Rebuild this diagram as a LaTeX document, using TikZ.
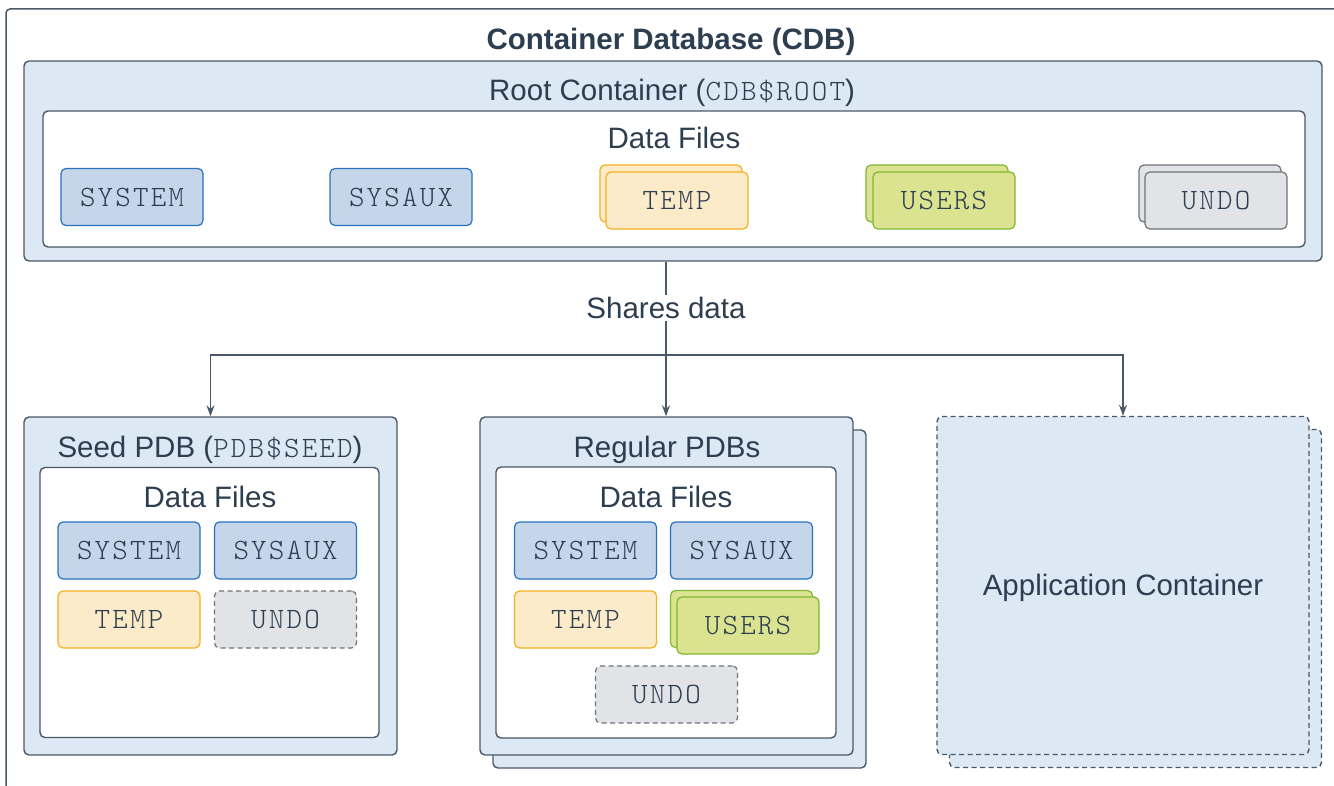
\documentclass[tikz,border=0pt]{standalone}
\usepackage{fontspec}
\setmainfont{Liberation Sans}
\newfontfamily\filefont{lmmonolt10-regular}[Extension=.otf,LetterSpace=7.5]
\usetikzlibrary{arrows.meta}

\definecolor{ink}{HTML}{2C3E50}
\definecolor{rim}{HTML}{4A5968}
\definecolor{pdbfill}{HTML}{DCE8F4}
\definecolor{sysfill}{HTML}{C5D5EA}
\definecolor{sysrim}{HTML}{2A72BE}
\definecolor{tempfill}{HTML}{FCEBC8}
\definecolor{temprim}{HTML}{F4B01E}
\definecolor{userfill}{HTML}{DBE391}
\definecolor{userrim}{HTML}{80B730}
\definecolor{undofill}{HTML}{E1E3E6}
\definecolor{undorim}{HTML}{6E7378}

\begin{document}
\begin{tikzpicture}[x=1pt,y=-1pt,
    font=\fontsize{29.5}{35}\selectfont, text=ink,
    box/.style={rectangle,draw=rim,line width=1.4pt,rounded corners=5pt},
    pdb/.style={box,fill=pdbfill,minimum width=373pt,minimum height=338pt},
    files/.style={box,fill=white},
    file/.style={rectangle,rounded corners=5pt,line width=1.2pt,
                 minimum width=142pt,minimum height=57pt,
                 font=\filefont\fontsize{29.5}{35}\selectfont},
    sysfile/.style={file,draw=sysrim,fill=sysfill},
    tempfile/.style={file,draw=temprim,fill=tempfill},
    userfile/.style={file,draw=userrim,fill=userfill},
    undofile/.style={file,draw=undorim,fill=undofill},
    optional/.style={dash pattern=on 5pt off 3.5pt},
    link/.style={draw=rim,line width=1.3pt},
    flow/.style={link,-{Stealth[length=11pt,width=8pt]}}]

  \useasboundingbox (0,0) rectangle (1334,786);
  \draw[draw=rim,line width=1.5pt,rounded corners=4pt] (6,9) rectangle (1360,810);
  \node[font=\bfseries\fontsize{29.5}{35}\selectfont] (cdbtitle) at (671,41.5) {Container Database (CDB)};

  % root container
  \node[box,fill=pdbfill,minimum width=1298pt,minimum height=200pt] (root) at (673,161) {};
  \node (roottitle) at (672,92.5) {Root Container ({\filefont CDB\$ROOT})};
  \node[files,minimum width=1262pt,minimum height=136pt] (rootfiles) at (674,179) {};
  \node (rootdf) at (674,138) {Data Files};
  \node[sysfile]  (rootsystem)   at (132,197)    {SYSTEM};
  \node[sysfile]  (rootsysaux)   at (401,197)    {SYSAUX};
  \node[tempfile] (roottempbk)   at (671,193.5)  {};
  \node[tempfile] (roottemp)     at (677,200.5)  {TEMP};
  \node[userfile] (rootusersbk)  at (937,193.5)  {};
  \node[userfile] (rootusers)    at (944,200.5)  {USERS};
  \node[undofile] (rootundobk)   at (1210,193.5) {};
  \node[undofile] (rootundo)     at (1216,200.5) {UNDO};

  % seed pdb
  \node[pdb] (seed) at (210.5,586) {};
  \node (seedtitle) at (210,450) {Seed PDB ({\filefont PDB\$SEED})};
  \node[files,minimum width=339pt,minimum height=270pt] (seedfiles) at (209.5,602.5) {};
  \node (seeddf) at (210,497) {Data Files};
  \node[sysfile]           (seedsystem) at (129,550.5)   {SYSTEM};
  \node[sysfile]           (seedsysaux) at (285.5,550.5) {SYSAUX};
  \node[tempfile]          (seedtemp)   at (129,619.5)   {TEMP};
  \node[undofile,optional] (seedundo)   at (285.5,619.5) {UNDO};

  % regular pdbs
  \node[pdb] (regularbk) at (679.5,599) {};
  \node[pdb] (regular)   at (666.5,586) {};
  \node (regtitle) at (667,450) {Regular PDBs};
  \node[files,minimum width=340pt,minimum height=271pt] (regfiles) at (666,602.5) {};
  \node (regdf) at (666,497) {Data Files};
  \node[sysfile]           (regsystem)  at (585.5,550.5) {SYSTEM};
  \node[sysfile]           (regsysaux)  at (741.5,550.5) {SYSAUX};
  \node[tempfile]          (regtemp)    at (585.5,619.5) {TEMP};
  \node[userfile]          (regusersbk) at (741.5,619)   {};
  \node[userfile]          (regusers)   at (748,625.5)   {USERS};
  \node[undofile,optional] (regundo)    at (666.5,694.5) {UNDO};

  % application container
  \node[pdb,optional,minimum width=372pt,minimum height=338pt] (appbk) at (1135.5,598.5) {};
  \node[pdb,optional,minimum width=372pt,minimum height=338pt] (app)   at (1123,585.5)   {};
  \node (apptitle) at (1123,588) {Application Container};

  % shared data
  \coordinate (split) at (666,355);
  \draw[link] (split |- root.south) -- (split);
  \draw[flow] (split) -| (seed.north);
  \draw[flow] (split) -- (split |- regular.north);
  \draw[flow] (split) -| (app.north);
  \node[fill=white,inner sep=2pt] (shares) at (666,308) {Shares data};
\end{tikzpicture}
\end{document}
